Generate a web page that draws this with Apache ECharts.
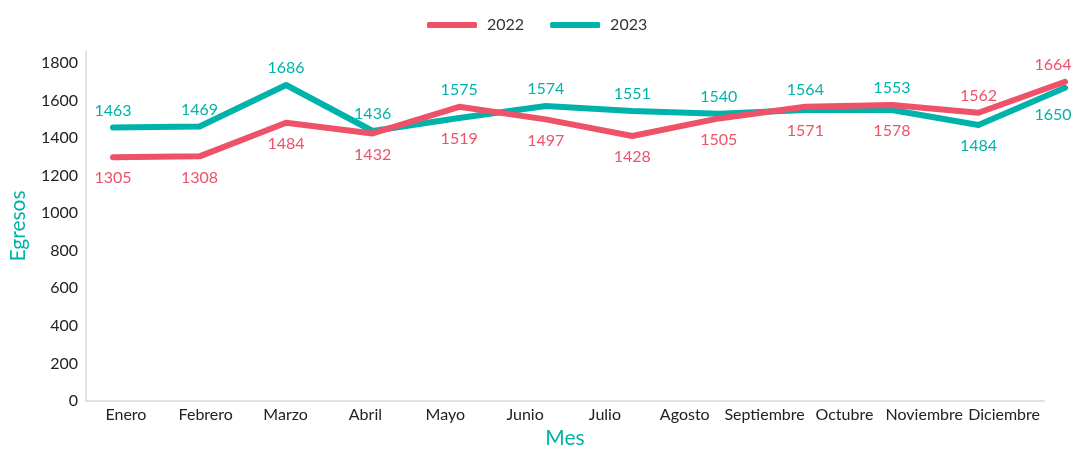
<!DOCTYPE html>
<html><head><meta charset="utf-8">
<script src="https://cdn.jsdelivr.net/npm/echarts@6/dist/echarts.min.js"></script>
<style>html,body{margin:0;padding:0;background:#fff}#c{width:1074px;height:450px}</style>
</head><body><div id="c"></div>
<script>
const months = ['Enero','Febrero','Marzo','Abril','Mayo','Junio','Julio','Agosto','Septiembre','Octubre','Noviembre','Diciembre'];
const yTicks = [0,200,400,600,800,1000,1200,1400,1600,1800];
// line values as drawn
const values2022 = [1298,1303,1482,1425,1567,1500,1411,1505,1567,1576,1535,1700];
const values2023 = [1457,1462,1683,1438,1507,1571,1544,1530,1550,1550,1470,1668];
// data labels as printed
const labels2022 = [1305,1308,1484,1432,1519,1497,1428,1505,1571,1578,1562,1664];
const labels2023 = [1463,1469,1686,1436,1575,1574,1551,1540,1564,1553,1484,1650];

const RED = '#EE5269', TEAL = '#00B3AA';
const FONT = 'Lato';
const Y_MAX = 1864, PLOT_H = 350;
const FLIP_FROM = 10; // from Noviembre on, 2022 labels sit above and 2023 below
function build(values, others, labels, normalPos) {
  const flipped = normalPos === 'top' ? 'bottom' : 'top';
  return values.map((v, i) => {
    const pos = i >= FLIP_FROM ? flipped : normalPos;
    let dist = pos === 'top' ? 9 : 13;
    const o = others[i];
    // keep the label clear of the other line when it lies on the label's side
    if (pos === 'top' && o > v) dist += (o - v) * PLOT_H / Y_MAX;
    if (pos === 'bottom' && o < v) dist += (v - o) * PLOT_H / Y_MAX;
    return { value: v, label: { position: pos, distance: dist, formatter: String(labels[i]) } };
  });
}
const chart = echarts.init(document.getElementById('c'));
chart.setOption({
  textStyle:{fontFamily:FONT},
  legend:{top:12,left:422,itemWidth:50,itemHeight:6,itemGap:26,
    textStyle:{fontSize:16,color:'#333',fontFamily:FONT,padding:[0,0,0,5]},
    data:[{name:'2022',icon:'roundRect'},{name:'2023',icon:'roundRect'}]},
  grid:[
    {left:86,right:30,top:51,bottom:49,outerBoundsMode:'none',containLabel:false},
    {left:113,right:9,top:51,bottom:49,outerBoundsMode:'none',containLabel:false}
  ],
  xAxis:[
    {type:'category',gridIndex:0,data:months,boundaryGap:true,
     axisLine:{lineStyle:{color:'#D9D9D9',width:1.5}},axisTick:{show:false},
     axisLabel:{color:'#222',fontSize:16,margin:6,interval:0,fontFamily:FONT},
     name:'Mes',nameLocation:'middle',nameGap:27,
     nameTextStyle:{color:TEAL,fontSize:21,fontFamily:FONT}},
    {type:'category',gridIndex:1,data:months,boundaryGap:false,show:false}
  ],
  yAxis:[
    {type:'value',gridIndex:0,min:yTicks[0],max:Y_MAX,interval:200,
     axisLine:{show:true,lineStyle:{color:'#D9D9D9',width:1.5}},axisTick:{show:false},
     splitLine:{show:false},
     axisLabel:{color:'#222',fontSize:16,margin:8,showMaxLabel:false,fontFamily:FONT,
       formatter:v=>yTicks.includes(v)?String(v):''},
     name:'Egresos',nameLocation:'middle',nameGap:57,nameRotate:90,
     nameTextStyle:{color:TEAL,fontSize:21,fontFamily:FONT}},
    {type:'value',gridIndex:1,min:0,max:Y_MAX,show:false,splitLine:{show:false}}
  ],
  series:[
    {name:'2022',type:'line',xAxisIndex:1,yAxisIndex:1,data:build(values2022,values2023,labels2022,'bottom'),
     symbol:'circle',symbolSize:0.1,showSymbol:true,
     itemStyle:{color:RED},lineStyle:{color:RED,width:6,cap:'round',join:'round'},
     label:{show:true,color:RED,fontSize:16,fontFamily:FONT},
     labelLayout:p=>p.dataIndex===months.length-1?{dx:-12}:{},z:3},
    {name:'2023',type:'line',xAxisIndex:1,yAxisIndex:1,data:build(values2023,values2022,labels2023,'top'),
     symbol:'circle',symbolSize:0.1,showSymbol:true,
     itemStyle:{color:TEAL},lineStyle:{color:TEAL,width:6,cap:'round',join:'round'},
     label:{show:true,color:TEAL,fontSize:16,fontFamily:FONT},
     labelLayout:p=>p.dataIndex===months.length-1?{dx:-12,dy:6}:{},z:2}
  ]
});
</script></body></html>
